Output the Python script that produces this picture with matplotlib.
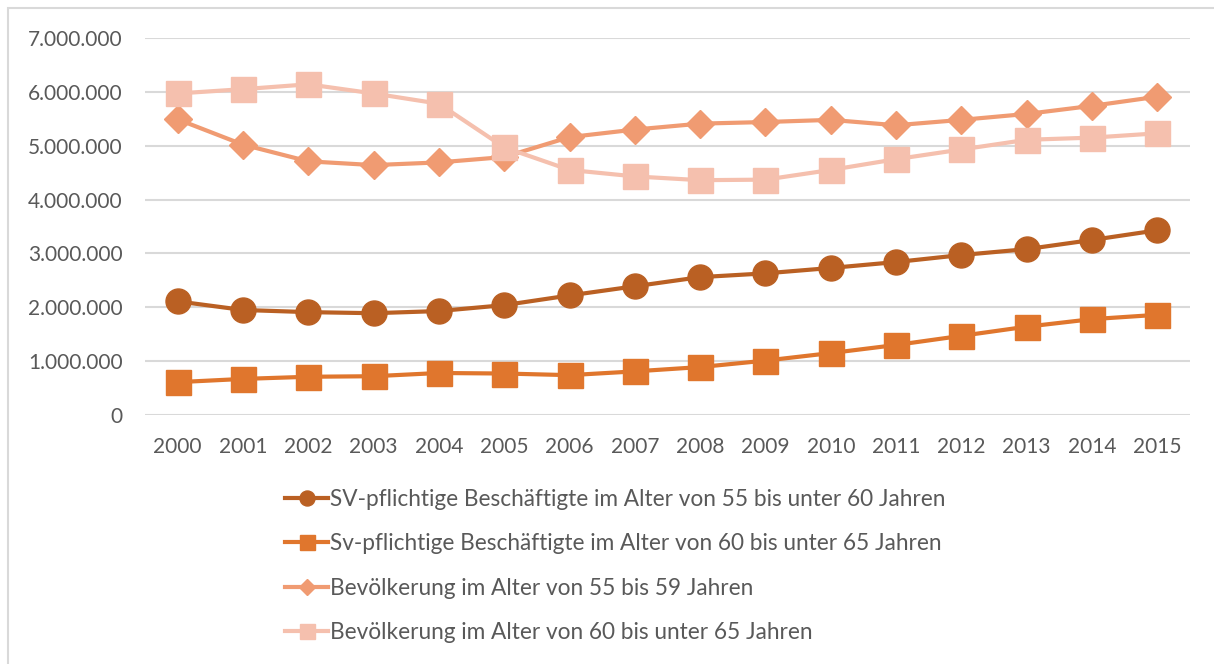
import matplotlib.pyplot as plt
from matplotlib.patches import Rectangle
from matplotlib.ticker import FuncFormatter

years = ['2000', '2001', '2002', '2003', '2004', '2005', '2006', '2007',
         '2008', '2009', '2010', '2011', '2012', '2013', '2014', '2015']

sv_55_60 = [2110000, 1950000, 1910000, 1890000, 1930000, 2040000, 2220000, 2390000,
            2560000, 2630000, 2730000, 2840000, 2970000, 3080000, 3250000, 3430000]
sv_60_65 = [610000, 670000, 710000, 720000, 780000, 770000, 740000, 810000,
            890000, 1010000, 1150000, 1300000, 1470000, 1640000, 1780000, 1860000]
bev_55_59 = [5490000, 5020000, 4710000, 4640000, 4690000, 4790000, 5160000, 5300000,
             5410000, 5440000, 5480000, 5380000, 5480000, 5590000, 5740000, 5910000]
bev_60_65 = [5970000, 6050000, 6140000, 5970000, 5780000, 4970000, 4550000, 4430000,
             4360000, 4370000, 4550000, 4750000, 4930000, 5110000, 5150000, 5230000]

labels = ['SV-pflichtige Beschäftigte im Alter von 55 bis unter 60 Jahren',
          'Sv-pflichtige Beschäftigte im Alter von 60 bis unter 65 Jahren',
          'Bevölkerung im Alter von 55 bis 59 Jahren',
          'Bevölkerung im Alter von 60 bis unter 65 Jahren']

plt.rcParams['font.family'] = ['Lato', 'DejaVu Sans']

fig = plt.figure(figsize=(12.14, 6.64), dpi=100)
fig.patches.append(Rectangle((8 / 1214, -0.05), 1.1, 1.05 - 8 / 664, transform=fig.transFigure,
                             fill=False, edgecolor='#D9D9D9', linewidth=1.5))

ax = fig.add_axes([145 / 1214, 1 - 415 / 664, 1045 / 1214, 377 / 664])
x = range(len(years))

ax.plot(x, sv_55_60, color='#BA6023', linewidth=3, marker='o', markersize=18, label=labels[0], zorder=3)
ax.plot(x, sv_60_65, color='#E0762D', linewidth=3, marker='s', markersize=18, label=labels[1], zorder=3)
ax.plot(x, bev_55_59, color='#F09B72', linewidth=3, marker='D', markersize=14, label=labels[2], zorder=3)
ax.plot(x, bev_60_65, color='#F5C0AE', linewidth=3, marker='s', markersize=18, label=labels[3], zorder=3)

ax.set_xlim(-0.5, 15.5)
ax.set_ylim(0, 7000000)
ax.set_yticks(range(0, 7000001, 1000000))
ax.yaxis.set_major_formatter(FuncFormatter(lambda v, p: f'{int(v):,}'.replace(',', '.')))
ax.set_xticks(list(x))
ax.set_xticklabels(years)
ax.tick_params(length=0, labelsize=15, colors='#595959')
ax.tick_params(axis='y', pad=16)
ax.tick_params(axis='x', pad=16)
ax.grid(axis='y', color='#D9D9D9', linewidth=1.5)
ax.set_axisbelow(True)
for s in ax.spines.values():
    s.set_visible(False)

fig.legend(loc='upper left', bbox_to_anchor=(276 / 1214, 1 - 480 / 664), frameon=False,
           fontsize=16.3, labelcolor='#595959', markerscale=0.6, handlelength=1.9,
           handletextpad=0.1, labelspacing=1.03, borderaxespad=0)

plt.savefig('out.png', dpi=100)
